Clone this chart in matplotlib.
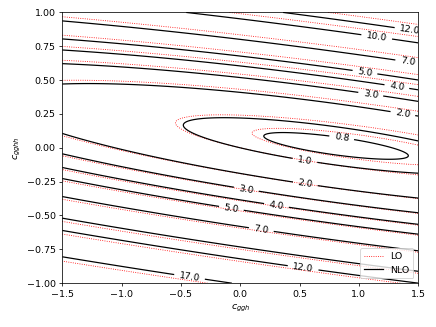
import numpy as np
import matplotlib
matplotlib.use('Agg')
import matplotlib.pyplot as plt

# ratio sigma/sigma_SM = c0 + cx*x + cy*y + cxx*x^2 + cxy*x*y + cyy*y^2
# coefficients (x = c_ggh, y = c_gghh)
lo_coef = [1.0, -0.590, -2.924, 0.291, 2.800, 12.12]
nlo_coef = [1.0, -0.589, -2.840, 0.338, 3.070, 12.90]

levels = [0.8, 1.0, 2.0, 3.0, 4.0, 5.0, 7.0, 10.0, 12.0, 17.0]

# where the NLO labels sit
label_pos = [(1.43, 0.862), (1.15, 0.816), (1.41, 0.622), (1.05, 0.548),
             (1.32, 0.448), (1.10, 0.394), (1.37, 0.245), (0.855, 0.072),
             (0.545, -0.094), (0.55, -0.26), (0.054, -0.294), (0.307, -0.418),
             (-0.073, -0.438), (0.18, -0.591), (0.532, -0.876), (-0.425, -0.938)]


def ratio(c, x, y):
    return c[0] + c[1]*x + c[2]*y + c[3]*x**2 + c[4]*x*y + c[5]*y**2


x = np.linspace(-1.5, 1.5, 400)
y = np.linspace(-1.0, 1.0, 400)
X, Y = np.meshgrid(x, y)

fig, ax = plt.subplots(figsize=(6.4, 4.8), dpi=68.125)
fig.subplots_adjust(left=0.143, right=0.959, top=0.962, bottom=0.134)

ax.contour(X, Y, ratio(lo_coef, X, Y), levels=levels, colors='red',
           linestyles='dotted', linewidths=0.9)
cs = ax.contour(X, Y, ratio(nlo_coef, X, Y), levels=levels, colors='black',
                linestyles='solid', linewidths=1.3)
ax.clabel(cs, fmt='%1.1f', fontsize=10, manual=label_pos)

ax.plot([], [], color='red', linestyle='dotted', linewidth=0.9, label='LO')
ax.plot([], [], color='black', linewidth=1.3, label='NLO')
ax.legend(loc='lower right')

ax.set_xlim(-1.5, 1.5)
ax.set_ylim(-1.0, 1.0)
ax.set_xlabel('$c_{ggh}$')
ax.set_ylabel('$c_{gghh}$')

plt.savefig('out.png')
